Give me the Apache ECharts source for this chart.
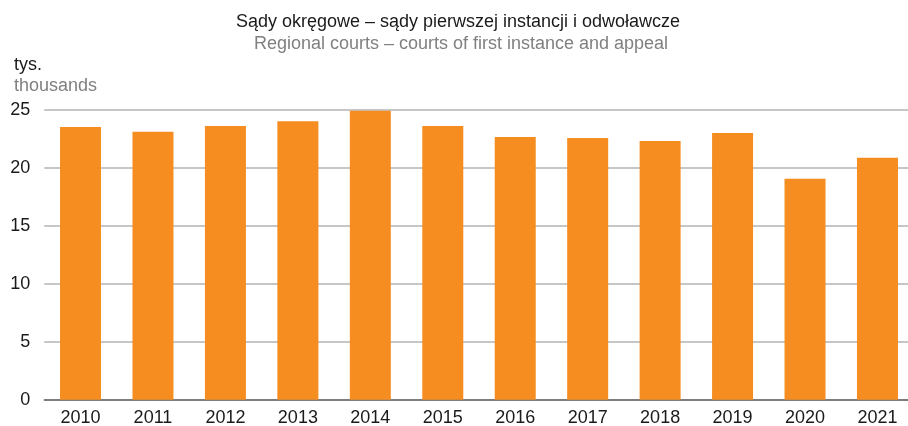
<!DOCTYPE html>
<html><head><meta charset="utf-8">
<script src="https://cdn.jsdelivr.net/npm/echarts@6/dist/echarts.min.js"></script>
<style>html,body{margin:0;padding:0;background:#fff}#c{width:908px;height:426px}</style>
</head><body><div id="c"></div>
<script>
const years = ['2010','2011','2012','2013','2014','2015','2016','2017','2018','2019','2020','2021'];
const values = [23.5, 23.1, 23.6, 24.0, 24.9, 23.6, 22.65, 22.55, 22.3, 23.0, 19.05, 20.85];
const yTicks = [0, 5, 10, 15, 20, 25];
const titlePl = 'Sądy okręgowe – sądy pierwszej instancji i odwoławcze';
const titleEn = 'Regional courts – courts of first instance and appeal';
const unitPl = 'tys.';
const unitEn = 'thousands';

const chart = echarts.init(document.getElementById('c'), null, {renderer: 'canvas'});
const font = 'Liberation Sans, Arial, sans-serif';
chart.setOption({
  animation: false,
  textStyle: {fontFamily: font},
  title: [
    {text: titlePl, left: 453, top: 8, textAlign: 'center',
     textStyle: {fontFamily: font, fontSize: 18, fontWeight: 'normal', color: '#1a1a1a'}},
    {text: titleEn, left: 456, top: 30, textAlign: 'center',
     textStyle: {fontFamily: font, fontSize: 18, fontWeight: 'normal', color: '#808080'}},
    {text: unitPl, left: 9, top: 51,
     textStyle: {fontFamily: font, fontSize: 18, fontWeight: 'normal', color: '#1a1a1a'}},
    {text: unitEn, left: 9, top: 72,
     textStyle: {fontFamily: font, fontSize: 18, fontWeight: 'normal', color: '#808080'}}
  ],
  grid: {left: 44.3, width: 869.4, top: 109.7, bottom: 26.3, containLabel: false, outerBoundsMode: 'none'},
  xAxis: {
    type: 'category', data: years,
    axisLine: {lineStyle: {color: '#666666', width: 1.5}},
    axisTick: {show: false},
    axisLabel: {fontFamily: font, fontSize: 18, color: '#1a1a1a', margin: 9}
  },
  yAxis: {
    type: 'value', min: yTicks[0], max: yTicks[yTicks.length - 1], interval: 5,
    axisLine: {show: false}, axisTick: {show: false},
    splitLine: {lineStyle: {color: '#b3b3b3', width: 1.5}},
    axisLabel: {fontFamily: font, fontSize: 18, color: '#1a1a1a', margin: 14}
  },
  series: [{
    type: 'bar', data: values, barWidth: '56.6%',
    itemStyle: {color: '#F58D21'}
  }]
});
</script></body></html>
